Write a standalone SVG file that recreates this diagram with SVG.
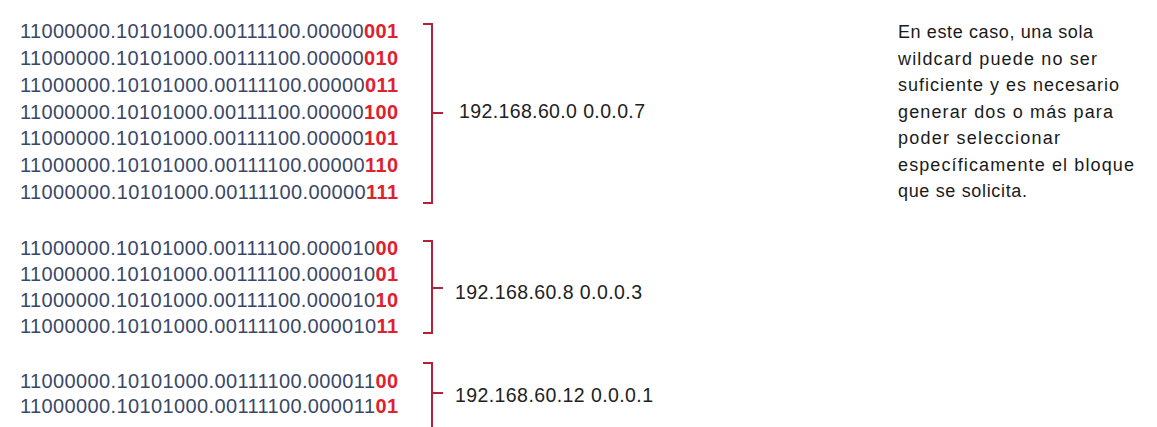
<svg xmlns="http://www.w3.org/2000/svg" width="1157" height="427" viewBox="0 0 1157 427">
<style>
.bin{font-family:"Liberation Sans",Arial,sans-serif;font-size:20px;fill:#3a4868}
.r{fill:#e0202e;font-weight:bold}
.lbl{font-family:"Liberation Sans",Arial,sans-serif;font-size:19.5px;fill:#222}
.note{font-family:"Liberation Sans",Arial,sans-serif;font-size:18px;fill:#1a1a1a}
.br{fill:none;stroke:#b5213a;stroke-width:2}
</style>
<rect width="1157" height="427" fill="#ffffff"/>
<g id="block1">
<text class="bin" x="20" y="38" textLength="378">11000000.10101000.00111100.00000<tspan class="r">001</tspan></text>
<text class="bin" x="20" y="65" textLength="378">11000000.10101000.00111100.00000<tspan class="r">010</tspan></text>
<text class="bin" x="20" y="92" textLength="378">11000000.10101000.00111100.00000<tspan class="r">011</tspan></text>
<text class="bin" x="20" y="118.5" textLength="378">11000000.10101000.00111100.00000<tspan class="r">100</tspan></text>
<text class="bin" x="20" y="145" textLength="378">11000000.10101000.00111100.00000<tspan class="r">101</tspan></text>
<text class="bin" x="20" y="172" textLength="378">11000000.10101000.00111100.00000<tspan class="r">110</tspan></text>
<text class="bin" x="20" y="199" textLength="378">11000000.10101000.00111100.00000<tspan class="r">111</tspan></text>
</g>
<g id="block2">
<text class="bin" x="20" y="255" textLength="378">11000000.10101000.00111100.000010<tspan class="r">00</tspan></text>
<text class="bin" x="20" y="281" textLength="378">11000000.10101000.00111100.000010<tspan class="r">01</tspan></text>
<text class="bin" x="20" y="307" textLength="378">11000000.10101000.00111100.000010<tspan class="r">10</tspan></text>
<text class="bin" x="20" y="333" textLength="378">11000000.10101000.00111100.000010<tspan class="r">11</tspan></text>
</g>
<g id="block3">
<text class="bin" x="20" y="388" textLength="378">11000000.10101000.00111100.000011<tspan class="r">00</tspan></text>
<text class="bin" x="20" y="413" textLength="378">11000000.10101000.00111100.000011<tspan class="r">01</tspan></text>
</g>
<g id="connectors">
<path class="br" d="M423,24 H432 V203 H423 M432,113 H443"/>
<path class="br" d="M423,241 H432 V333 H423 M432,288 H443"/>
<path class="br" d="M423,363 H432 V430 M432,393 H443"/>
</g>
<g id="label1"><text class="lbl" x="459" y="118" textLength="186">192.168.60.0 0.0.0.7</text></g>
<g id="label2"><text class="lbl" x="455" y="299" textLength="187">192.168.60.8 0.0.0.3</text></g>
<g id="label3"><text class="lbl" x="455" y="402" textLength="198">192.168.60.12 0.0.0.1</text></g>
<g id="note">
<text class="note" x="898" y="38" textLength="195">En este caso, una sola</text>
<text class="note" x="898" y="64.5" textLength="199">wildcard puede no ser</text>
<text class="note" x="898" y="91" textLength="221">suficiente y es necesario</text>
<text class="note" x="898" y="117.5" textLength="215">generar dos o más para</text>
<text class="note" x="898" y="144" textLength="162">poder seleccionar</text>
<text class="note" x="898" y="170.5" textLength="236">específicamente el bloque</text>
<text class="note" x="898" y="197" textLength="129">que se solicita.</text>
</g>
</svg>
